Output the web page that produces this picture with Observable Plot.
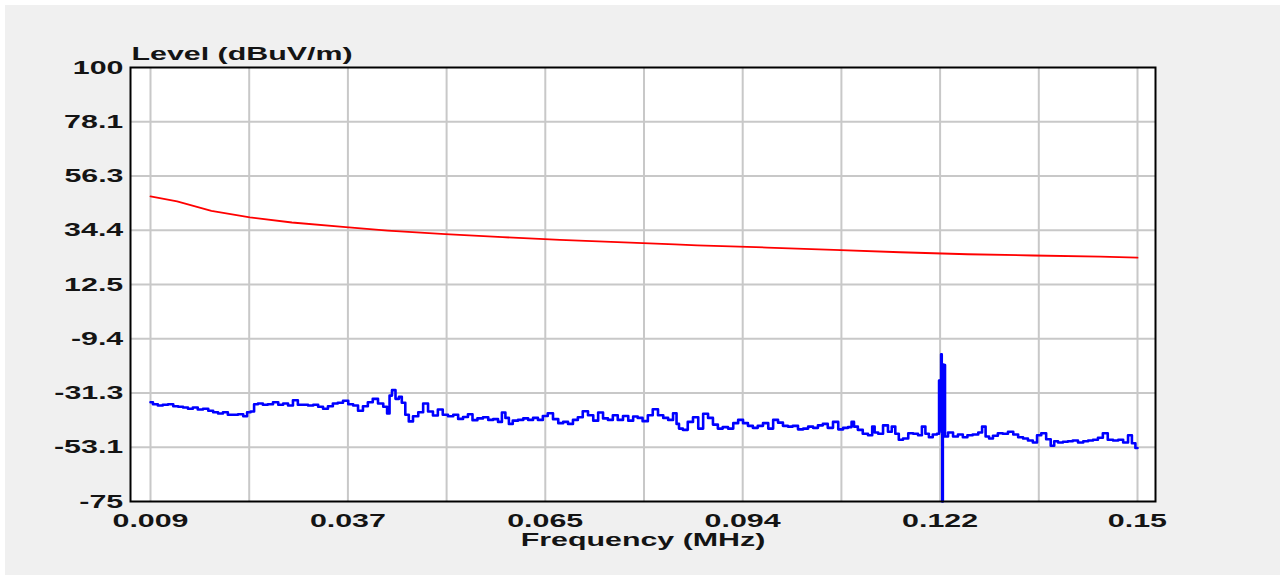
<!DOCTYPE html>
<html><head><meta charset="utf-8">
<script src="https://cdn.jsdelivr.net/npm/d3@7"></script>
<script src="https://cdn.jsdelivr.net/npm/@observablehq/plot@0.6"></script>
<style>
html,body{margin:0;padding:0;background:#fff;width:1285px;height:579px;overflow:hidden;}
#panel{position:absolute;left:5px;top:5px;width:1275px;height:570px;background:#f0f0f0;}
#chart{position:absolute;left:0;top:0;width:1285px;height:579px;}
</style></head><body>
<div id="panel"></div><div id="chart"></div>
<script>
const limitFreq = [0.009, 0.0128, 0.0177, 0.0232, 0.0292, 0.0369, 0.0429, 0.0511, 0.0593, 0.0675, 0.0757, 0.0839, 0.0871, 0.0971, 0.1066, 0.1161, 0.1257, 0.1351, 0.1447, 0.15];
const limitLevel = [48.0, 46.0, 42.2, 39.6, 37.5, 35.6, 34.2, 32.8, 31.6, 30.5, 29.6, 28.7, 28.3, 27.4, 26.5, 25.5, 24.7, 24.2, 23.7, 23.3];

const measFreq = [
0.0090,0.0097,0.0104,0.0111,0.0119,0.0126,0.0133,0.0140,0.0147,0.0154,0.0161,0.0169,0.0176,0.0183,0.0190,0.0197,0.0204,0.0211,0.0219,0.0226,0.0230,0.0236,0.0240,0.0247,0.0254,0.0261,0.0269,0.0276,0.0283,0.0290,0.0297,0.0304,0.0311,
0.0319,0.0326,0.0333,0.0340,0.0347,0.0354,0.0361,0.0369,0.0376,0.0383,0.0390,0.0397,0.0404,0.0411,0.0419,0.0426,0.0430,0.0433,0.0437,0.0443,0.0447,0.0451,0.0457,0.0461,0.0469,0.0476,0.0483,0.0490,0.0497,0.0504,0.0511,0.0519,0.0526,0.0533,0.0540,0.0547,0.0553,
0.0561,0.0569,0.0576,0.0583,0.0590,0.0594,0.0600,0.0604,0.0611,0.0619,0.0626,0.0633,0.0640,0.0647,0.0654,0.0661,0.0669,0.0676,0.0683,0.0690,0.0697,0.0704,0.0711,0.0719,0.0726,0.0733,0.0740,0.0747,0.0754,0.0761,0.0769,0.0776,0.0783,0.0789,
0.0797,0.0804,0.0811,0.0819,0.0826,0.0833,0.0840,0.0843,0.0847,0.0854,0.0861,0.0869,0.0876,0.0883,0.0890,0.0897,0.0904,0.0911,0.0919,0.0926,0.0933,0.0940,0.0947,0.0954,0.0961,0.0969,0.0976,0.0983,0.0990,0.0997,0.1004,0.1011,0.1019,
0.1026,0.1033,0.1040,0.1047,0.1054,0.1061,0.1069,0.1076,0.1083,0.1090,0.1093,0.1097,0.1104,0.1111,0.1119,0.1123,0.1126,0.1133,0.1140,0.1147,0.1151,0.1157,0.1161,0.1169,0.1176,0.1183,0.1190,0.1194,0.1200,0.1204,0.1211,0.1216,
0.12171,0.12181,0.12190,0.12200,0.12207,0.12214,0.12224,0.12236,0.12243,0.12257,0.1233,0.1240,0.1247,0.1254,0.1260,
0.1269,0.1276,0.1280,0.1286,0.1290,0.1297,0.1304,0.1311,0.1319,0.1326,0.1333,0.1340,0.1347,0.1354,0.1359,0.1366,0.1373,0.1379,0.1383,0.1390,0.1397,0.1404,0.1411,0.1419,0.1426,0.1433,0.1440,0.1447,0.1454,0.1461,0.1469,0.1476,0.1483,0.1490,0.1494,0.1500];
const measLevel = [
-35.0,-35.8,-36.3,-36.0,-35.8,-36.6,-36.8,-37.1,-37.6,-37.1,-37.9,-37.6,-38.4,-39.0,-39.5,-39.0,-40.0,-40.0,-39.8,-40.6,-39.0,-38.7,-35.8,-35.5,-36.0,-35.8,-35.0,-36.0,-35.5,-36.3,-34.2,-36.0,-36.0,
-36.3,-36.0,-36.8,-37.6,-36.6,-35.5,-35.2,-34.4,-35.8,-36.3,-38.4,-36.6,-35.0,-33.6,-35.5,-36.8,-39.5,-32.3,-30.1,-33.6,-32.8,-35.2,-40.0,-42.7,-40.6,-39.0,-35.5,-38.7,-40.3,-37.9,-40.0,-40.6,-40.0,-41.7,-40.9,-39.8,-42.2,
-41.5,-41.0,-42.1,-41.8,-42.9,-39.1,-41.3,-43.7,-42.4,-42.1,-41.5,-42.1,-41.3,-42.1,-40.5,-39.4,-41.8,-43.4,-42.9,-43.7,-42.1,-41.0,-38.6,-40.2,-42.4,-39.1,-41.5,-42.1,-40.2,-42.1,-40.5,-42.4,-40.7,-41.3,
-42.6,-40.2,-37.8,-40.2,-41.3,-42.1,-39.4,-43.7,-45.6,-46.1,-42.9,-41.0,-45.6,-39.6,-41.3,-44.0,-45.6,-45.0,-45.6,-43.4,-42.1,-43.4,-44.5,-45.3,-44.5,-43.4,-45.6,-42.1,-43.2,-44.5,-44.8,-44.5,-45.9,
-45.6,-44.8,-45.3,-44.3,-43.7,-45.3,-42.9,-45.9,-45.3,-45.0,-42.9,-44.8,-46.1,-47.7,-48.3,-44.8,-47.2,-47.7,-44.3,-46.9,-44.8,-47.7,-50.1,-49.6,-47.5,-47.7,-48.3,-44.8,-47.7,-49.1,-48.0,-47.7,
-26.2,-46.0,-26.0,-15.6,-47.0,-75.0,-19.8,-45.0,-20.0,-48.8,-47.2,-48.8,-48.0,-49.1,-48.3,
-48.0,-47.2,-44.8,-48.8,-49.6,-48.5,-47.5,-47.7,-46.9,-48.0,-49.1,-49.6,-50.4,-51.2,-48.3,-47.5,-49.9,-52.5,-50.7,-51.2,-50.9,-50.7,-50.4,-51.2,-50.7,-50.4,-50.1,-49.3,-47.5,-50.1,-50.4,-50.1,-51.2,-48.3,-51.5,-53.4];

const xGridValues = [0.009, 0.0231, 0.0372, 0.0513, 0.0654, 0.0795, 0.0936, 0.1077, 0.1218, 0.1359, 0.15];
const xTickValues = [0.009, 0.0372, 0.0654, 0.0936, 0.1218, 0.15];
const xTickLabels = ["0.009", "0.037", "0.065", "0.094", "0.122", "0.15"];
const yTickValues = [100, 78.125, 56.25, 34.375, 12.5, -9.375, -31.25, -53.125, -75];
const yTickLabels = ["100", "78.1", "56.3", "34.4", "12.5", "-9.4", "-31.3", "-53.1", "-75"];
const yGridValues = yTickValues.slice(1, -1);
const yAxisTitle = "Level (dBuV/m)";
const xAxisTitle = "Frequency (MHz)";

const limit = limitFreq.map((f, i) => ({f, v: limitLevel[i]}));
const meas = measFreq.map((f, i) => ({f, v: measLevel[i]}));

const plot = Plot.plot({
  width: 1285, height: 579,
  marginLeft: 130, marginRight: 130, marginTop: 67, marginBottom: 78,
  style: {background: "transparent", fontFamily: "'Liberation Sans', Arial, sans-serif", fontSize: "19px", fontWeight: "bold", color: "#141414", overflow: "visible"},
  x: {domain: [0.009, 0.15], insetLeft: 20, insetRight: 18},
  y: {domain: [-75, 100]},
  marks: [
    Plot.frame({fill: "white", stroke: "none"}),
    Plot.ruleX(xGridValues, {stroke: "#c8c8c8", strokeWidth: 2}),
    Plot.ruleY(yGridValues, {stroke: "#c8c8c8", strokeWidth: 2}),
    Plot.line(limit, {x: "f", y: "v", stroke: "#ff0000", strokeWidth: 1.8}),
    Plot.line(meas, {x: "f", y: "v", stroke: "#0000ff", strokeWidth: 2.6, curve: "step"}),
    Plot.frame({stroke: "#000", strokeWidth: 2}),
    Plot.axisX({ticks: xTickValues, tickFormat: d => xTickLabels[xTickValues.indexOf(d)], tickSize: 0, tickPadding: 12, label: null}),
    Plot.axisY({ticks: yTickValues, tickFormat: d => yTickLabels[yTickValues.indexOf(d)], tickSize: 0, tickPadding: 7, label: null}),
    Plot.text([yAxisTitle], {frameAnchor: "top-left", textAnchor: "start", lineAnchor: "top", dx: 1, dy: -21}),
    Plot.text([xAxisTitle], {frameAnchor: "bottom", lineAnchor: "top", dy: 31})
  ]
});
document.getElementById("chart").appendChild(plot);
// the reference's lettering is horizontally stretched
plot.querySelectorAll("text").forEach(t => {
  const b = t.getBBox();
  const anchor = getComputedStyle(t).textAnchor;
  const ax = anchor === "end" ? b.x + b.width : anchor === "middle" ? b.x + b.width / 2 : b.x;
  const prev = t.getAttribute("transform") || "";
  t.setAttribute("transform", `${prev} translate(${ax},0) scale(1.6,1) translate(${-ax},0)`);
});
</script>
</body></html>
